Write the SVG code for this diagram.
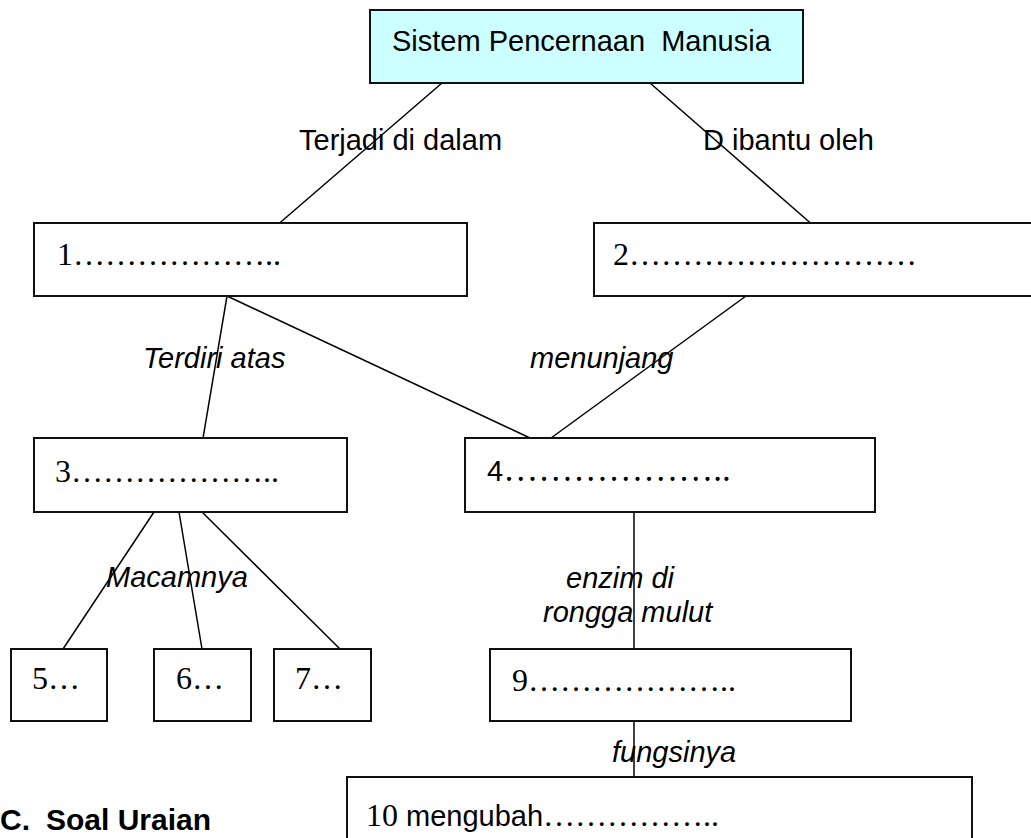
<svg xmlns="http://www.w3.org/2000/svg" width="1031" height="838" viewBox="0 0 1031 838">
<style>
.box{fill:#fff;stroke:#111;stroke-width:2}
.top{fill:#ccffff;stroke:#111;stroke-width:2}
.ln{stroke:#000;stroke-width:1.5;fill:none}
.s{font-family:"Liberation Sans",Arial,sans-serif;font-size:29px;fill:#000}
.i{font-family:"Liberation Sans",Arial,sans-serif;font-size:29px;font-style:italic;fill:#000}
.t{font-family:"Liberation Serif","Times New Roman",serif;font-size:32px;fill:#000}
.b{font-family:"Liberation Sans",Arial,sans-serif;font-size:30px;font-weight:bold;fill:#000}
</style>
<rect width="1031" height="838" fill="#fff"/>
<g id="connectors">
<line class="ln" x1="442" y1="83" x2="275" y2="227"/>
<line class="ln" x1="650" y1="83" x2="815" y2="227"/>
<line class="ln" x1="227" y1="296" x2="203" y2="438"/>
<line class="ln" x1="227" y1="296" x2="530" y2="438"/>
<line class="ln" x1="746" y1="296" x2="551" y2="438"/>
<line class="ln" x1="154" y1="512" x2="63" y2="649"/>
<line class="ln" x1="179" y1="512" x2="202" y2="649"/>
<line class="ln" x1="202" y1="512" x2="340" y2="649"/>
<line class="ln" x1="634" y1="512" x2="634" y2="655"/>
<line class="ln" x1="634" y1="721" x2="634" y2="777"/>
<text class="s" x="299" y="150">Terjadi di dalam</text>
<text class="s" x="703" y="150">D ibantu oleh</text>
<text class="i" x="143" y="368">Terdiri atas</text>
<text class="i" x="530" y="368">menunjang</text>
<text class="i" x="106" y="587">Macamnya</text>
<text class="i" x="566" y="588">enzim di</text>
<text class="i" x="543" y="622">rongga mulut</text>
<text class="i" x="612" y="762">fungsinya</text>
</g>
<g id="node-title">
<rect class="top" x="370" y="10" width="433" height="73"/>
<text class="s" x="392" y="51" xml:space="preserve">Sistem Pencernaan  Manusia</text>
</g>
<g id="node-1">
<rect class="box" x="34" y="223" width="433" height="73"/>
<text class="t" x="57" y="265">1………………..</text>
</g>
<g id="node-2">
<rect class="box" x="594" y="223" width="450" height="73"/>
<text class="t" x="613" y="265">2………………………</text>
</g>
<g id="node-3">
<rect class="box" x="34" y="438" width="313" height="74"/>
<text class="t" x="55" y="482">3………………..</text>
</g>
<g id="node-4">
<rect class="box" x="465" y="438" width="410" height="74"/>
<text x="487" y="481"><tspan class="s">4</tspan><tspan class="t" style="font-size:35px">………………..</tspan></text>
</g>
<g id="node-5">
<rect class="box" x="11" y="649" width="96" height="72"/>
<text class="t" x="32" y="689">5…</text>
</g>
<g id="node-6">
<rect class="box" x="154" y="649" width="97" height="72"/>
<text class="t" x="176" y="689">6…</text>
</g>
<g id="node-7">
<rect class="box" x="274" y="649" width="97" height="72"/>
<text class="t" x="295" y="689">7…</text>
</g>
<g id="node-9">
<rect class="box" x="490" y="649" width="361" height="72"/>
<text class="t" x="512" y="691">9………………..</text>
</g>
<g id="node-10">
<rect class="box" x="347" y="777" width="625" height="80"/>
<text x="366" y="826"><tspan class="t">10 </tspan><tspan class="s">mengubah</tspan><tspan class="t">……………..</tspan></text>
</g>
<g id="heading">
<text class="b" x="0" y="830">C.<tspan x="46">Soal Uraian</tspan></text>
</g>
</svg>
